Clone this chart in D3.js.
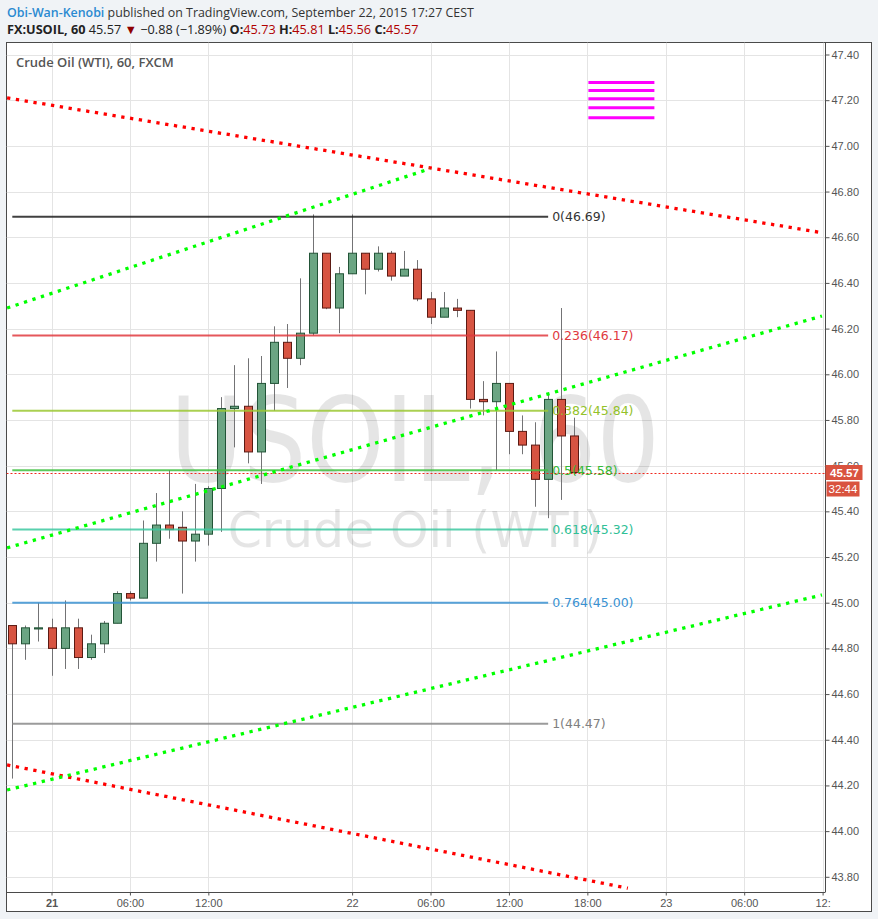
<!DOCTYPE html>
<html><head><meta charset="utf-8">
<script src="https://cdn.jsdelivr.net/npm/d3@7"></script>
<style>
html,body{margin:0;padding:0;background:#f0f3f6;}
svg{display:block;}
</style></head>
<body>
<svg id="c" width="878" height="919"></svg>
<script>
// ---------------- DATA ----------------
const opens  = [44.90,44.82,44.885,44.89,44.80,44.89,44.76,44.82,44.91,45.04,45.02,45.26,45.34,45.33,45.27,45.30,45.50,45.85,45.86,45.66,45.96,46.14,46.07,46.18,46.53,46.29,46.44,46.53,46.46,46.53,46.43,46.46,46.33,46.25,46.29,46.28,45.89,45.88,45.96,45.75,45.69,45.54,45.89,45.73];
const highs  = [44.90,44.90,45.00,44.93,45.01,44.93,44.86,44.92,45.05,45.05,45.36,45.48,45.58,45.40,45.52,45.51,45.90,46.04,46.07,46.08,46.21,46.22,46.42,46.70,46.53,46.47,46.70,46.53,46.56,46.54,46.54,46.50,46.36,46.36,46.33,46.28,45.97,46.10,45.96,45.82,45.79,45.92,46.29,45.81];
const lows   = [44.23,44.75,44.83,44.68,44.71,44.71,44.75,44.78,44.91,45.01,45.02,45.18,45.28,45.04,45.18,45.25,45.31,45.68,45.61,45.52,45.84,45.94,46.04,46.17,46.285,46.18,46.44,46.35,46.45,46.41,46.43,46.32,46.22,46.25,46.25,45.85,45.82,45.58,45.65,45.65,45.42,45.37,45.45,45.56];
const closes = [44.82,44.89,44.89,44.80,44.89,44.76,44.82,44.91,45.04,45.02,45.26,45.34,45.32,45.27,45.30,45.50,45.85,45.86,45.66,45.96,46.14,46.07,46.18,46.53,46.29,46.44,46.53,46.46,46.53,46.43,46.46,46.33,46.25,46.29,46.28,45.89,45.88,45.96,45.75,45.69,45.54,45.89,45.73,45.57];

// time axis: bar index -> label
const timeTickBars   = [3, 9, 15, 26, 32, 38, 44, 50, 56, 62];
const timeTickLabels = ["21","06:00","12:00","22","06:00","12:00","18:00","23","06:00","12:"];

// price axis ticks
const priceTicks = d3.range(0, 19).map(k => +(43.8 + k*0.2).toFixed(2));

// Fibonacci retracement
const fibRatios = ["0","0.236","0.382","0.5","0.618","0.764","1"];
const fibValues = [46.69,46.17,45.84,45.58,45.32,45.00,44.47];
const fibBars   = [0, 41];

// trend lines: [bar, price] endpoints
const redLines = [
  [[-0.4, 47.21], [61.95, 46.62]],
  [[-0.4, 44.29], [47.1, 43.75]]
];
const greenLines = [
  [[-0.4, 46.29], [31.96, 46.90]],
  [[-0.4, 45.24], [61.95, 46.255]],
  [[-0.4, 44.18], [61.95, 45.034]]
];

// magenta horizontal segments
const magentaLevels = [47.277, 47.242, 47.206, 47.167, 47.123];
const magentaBars   = [44.08, 49.13];

const lastPrice = 45.57;
const countdown = "32:44";

// ---------------- STYLES ----------------
const fibColors = ["#1e1e1e","#e0393e","#9bc832","#3fbf3f","#3cc8a0","#3a92d2","#8a8a8a"];
const fibLabelColors = ["#333333","#e0393e","#93c22a","#36b936","#30c096","#3a92d2","#808080"];

// ---------------- LAYOUT ----------------
const svg = d3.select("#c");
const plot = {left: 6.5, right: 825.5, top: 42.5, bottom: 892};
const x = d3.scaleLinear().domain([0, 62]).range([12.3, 822.6]);
const y = d3.scaleLinear().domain([43.8, 47.4]).range([876.8, 54.5]);

function fitWidth(sel, size, target){
  const w = sel.node().getComputedTextLength();
  if (w > 0) sel.style("font-size", (size*target/w).toFixed(2)+"px");
}

// header
const hdr = svg.append("text").attr("x", 7).attr("y", 17)
  .style("font-family","'Open Sans', sans-serif").style("font-size","14px");
hdr.append("tspan").attr("fill","#2a8ad1").attr("font-weight","600").text("Obi-Wan-Kenobi");
hdr.append("tspan").attr("fill","#333").text(" published on TradingView.com, September 22, 2015 17:27 CEST");
fitWidth(hdr, 14, 467);

const h2 = svg.append("text").attr("x", 7).attr("y", 34)
  .style("font-family","'Open Sans', sans-serif").style("font-size","13px").attr("fill","#222");
h2.append("tspan").attr("font-weight","bold").text("FX:USOIL, 60");
h2.append("tspan").text(" 45.57 ");
h2.append("tspan").attr("fill","#8e0000").text("▼");
h2.append("tspan").text(" −0.88 (−1.89%) ");
[["O:","45.73"],["H:","45.81"],["L:","45.56"],["C:","45.57"]].forEach((p,k)=>{
  h2.append("tspan").attr("font-weight","bold").text((k?"  ":"")+p[0]);
  h2.append("tspan").attr("fill","#b00000").text(p[1]);
});
fitWidth(h2, 13, 412);

// chart background
svg.append("rect").attr("x",6.5).attr("y",42.5).attr("width",865).attr("height",869)
  .attr("fill","#fff").attr("stroke","#4a4a4a").attr("stroke-width",1);

const clipId = "plotclip";
svg.append("clipPath").attr("id",clipId).append("rect")
  .attr("x",plot.left).attr("y",plot.top).attr("width",plot.right-plot.left).attr("height",plot.bottom-plot.top);

const g = svg.append("g").attr("clip-path",`url(#${clipId})`);

// grid
g.selectAll(".hg").data(priceTicks).enter().append("line")
  .attr("x1",plot.left).attr("x2",plot.right)
  .attr("y1",d=>Math.round(y(d))+0.5).attr("y2",d=>Math.round(y(d))+0.5)
  .attr("stroke","#e4e4e4").attr("stroke-width",1);
g.selectAll(".vg").data(timeTickBars).enter().append("line")
  .attr("y1",plot.top).attr("y2",plot.bottom)
  .attr("x1",d=>Math.round(x(d))+0.5).attr("x2",d=>Math.round(x(d))+0.5)
  .attr("stroke","#e4e4e4").attr("stroke-width",1);

// watermark
g.append("text").attr("x",415).attr("y",481).attr("text-anchor","middle")
  .attr("textLength",490).attr("lengthAdjust","spacingAndGlyphs")
  .style("font-family","'DejaVu Sans', sans-serif").style("font-size","118px")
  .attr("fill","#000").attr("fill-opacity",0.1).text("USOIL, 60");
g.append("text").attr("x",415).attr("y",547).attr("text-anchor","middle")
  .style("font-family","'DejaVu Sans', sans-serif").style("font-size","49px")
  .attr("fill","#000").attr("fill-opacity",0.1).text("Crude Oil (WTI)");

// candles
const bars = opens.map((o,i)=>({i,o,h:highs[i],l:lows[i],c:closes[i]}));
const cg = g.append("g");
cg.selectAll(".wick").data(bars).enter().append("line")
  .attr("x1",d=>Math.round(x(d.i))+0.5).attr("x2",d=>Math.round(x(d.i))+0.5)
  .attr("y1",d=>y(d.h)).attr("y2",d=>y(d.l))
  .attr("stroke","#737375").attr("stroke-width",1);
cg.selectAll(".body").data(bars).enter().append("rect")
  .attr("x",d=>Math.round(x(d.i))-3.5).attr("width",8)
  .attr("y",d=>y(Math.max(d.o,d.c)))
  .attr("height",d=>Math.max(1, y(Math.min(d.o,d.c))-y(Math.max(d.o,d.c))))
  .attr("fill",d=>d.c>=d.o?"#6ba583":"#d75442")
  .attr("stroke",d=>d.c>=d.o?"#225437":"#5b1a13").attr("stroke-width",1);

// last price dotted line
g.append("line").attr("x1",plot.left).attr("x2",plot.right)
  .attr("y1",Math.round(y(lastPrice))+0.5).attr("y2",Math.round(y(lastPrice))+0.5)
  .attr("stroke","#f0281e").attr("stroke-width",1).attr("stroke-dasharray","2,2");

// fib lines
g.selectAll(".fib").data(fibValues).enter().append("line")
  .attr("x1",x(fibBars[0])).attr("x2",x(fibBars[1]))
  .attr("y1",d=>y(d)).attr("y2",d=>y(d))
  .attr("stroke",(d,k)=>fibColors[k]).attr("stroke-width",2).attr("stroke-opacity",0.85);

// trend lines
const line = d3.line().x(d=>x(d[0])).y(d=>y(d[1]));
g.selectAll(".rl").data(redLines).enter().append("path").attr("d",line)
  .attr("fill","none").attr("stroke","#ff0000").attr("stroke-width",3.3).attr("stroke-dasharray","3.3,5.6");
g.selectAll(".gl").data(greenLines).enter().append("path").attr("d",line)
  .attr("fill","none").attr("stroke","#00ff00").attr("stroke-width",3.3).attr("stroke-dasharray","3.3,5.6");

// magenta segments
g.selectAll(".mg").data(magentaLevels).enter().append("line")
  .attr("x1",x(magentaBars[0])).attr("x2",x(magentaBars[1]))
  .attr("y1",d=>y(d)).attr("y2",d=>y(d))
  .attr("stroke","#ff00ff").attr("stroke-width",3);

// fib labels
g.selectAll(".fibl").data(fibValues).enter().append("text")
  .attr("x",x(fibBars[1])+4).attr("y",d=>y(d)).attr("dy","0.36em")
  .style("font-family","'DejaVu Sans', sans-serif").style("font-size","12.5px")
  .attr("fill",(d,k)=>fibLabelColors[k])
  .text((d,k)=>`${fibRatios[k]}(${d.toFixed(2)})`);

// title
svg.append("text").attr("x",16).attr("y",67)
  .style("font-family","'Open Sans', sans-serif").style("font-size","13px").style("font-weight","600")
  .attr("fill","#555").text("Crude Oil (WTI), 60, FXCM");

// axes lines
svg.append("line").attr("x1",plot.right).attr("x2",plot.right).attr("y1",plot.top).attr("y2",plot.bottom)
  .attr("stroke","#4a4a4a");
svg.append("line").attr("x1",plot.left).attr("x2",plot.right).attr("y1",plot.bottom+0.5).attr("y2",plot.bottom+0.5)
  .attr("stroke","#4a4a4a");

// right axis
const yAxis = d3.axisRight(y).tickValues(priceTicks).tickSize(4).tickPadding(2).tickFormat(d=>d.toFixed(2));
const ya = svg.append("g").attr("transform",`translate(${plot.right},0)`).call(yAxis);
ya.select(".domain").remove();
ya.selectAll("line").attr("stroke","#555");
ya.selectAll("text").style("font-family","'Liberation Sans', Arial, sans-serif").style("font-size","11px").attr("fill","#555");

// bottom axis
const xAxis = d3.axisBottom(x).tickValues(timeTickBars).tickSize(3).tickPadding(4).tickFormat((d,k)=>timeTickLabels[k]);
const xa = svg.append("g").attr("transform",`translate(0,${plot.bottom+0.5})`).call(xAxis);
xa.select(".domain").remove();
xa.selectAll("line").attr("stroke","#555");
xa.selectAll("text").style("font-family","'Liberation Sans', Arial, sans-serif").style("font-size","11px").attr("fill","#555")
  .style("font-weight",(d,k)=>k===0?"bold":"normal");

// last price label
const ly = y(lastPrice);
svg.append("rect").attr("x",plot.right).attr("y",ly-7.5).attr("width",37).attr("height",15).attr("fill","#d9533f");
svg.append("text").attr("x",plot.right+19).attr("y",ly).attr("dy","0.36em").attr("text-anchor","middle")
  .style("font-family","'Liberation Sans', Arial, sans-serif").style("font-size","11.5px").style("font-weight","bold")
  .attr("fill","#fff").text(lastPrice.toFixed(2));
svg.append("rect").attr("x",plot.right+1).attr("y",ly+9).attr("width",33).attr("height",15).attr("fill","#d9533f");
svg.append("text").attr("x",plot.right+17.5).attr("y",ly+16.5).attr("dy","0.36em").attr("text-anchor","middle")
  .style("font-family","'Liberation Sans', Arial, sans-serif").style("font-size","11.5px")
  .attr("fill","#fff").text(countdown);
</script>
</body></html>
